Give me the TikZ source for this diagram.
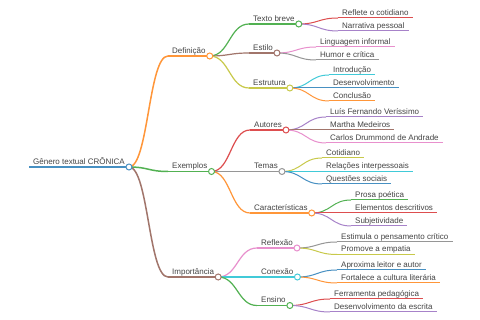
\documentclass[tikz,border=0pt]{standalone}
\usepackage{fontspec}
\setmainfont{Liberation Sans}
\usetikzlibrary{calc}
\definecolor{bblue}{HTML}{1F77B4}
\definecolor{borange}{HTML}{FF7F0E}
\definecolor{bgreen}{HTML}{2CA02C}
\definecolor{bred}{HTML}{D62728}
\definecolor{bpurple}{HTML}{9467BD}
\definecolor{bbrown}{HTML}{8C564B}
\definecolor{bpink}{HTML}{E377C2}
\definecolor{bgray}{HTML}{7F7F7F}
\definecolor{bolive}{HTML}{BCBD22}
\definecolor{bcyan}{HTML}{17BECF}
\colorlet{cblue}{bblue!82!white}
\colorlet{corange}{borange!82!white}
\colorlet{cgreen}{bgreen!82!white}
\colorlet{cred}{bred!82!white}
\colorlet{cpurple}{bpurple!82!white}
\colorlet{cbrown}{bbrown!82!white}
\colorlet{cpink}{bpink!82!white}
\colorlet{cgray}{bgray!82!white}
\colorlet{colive}{bolive!82!white}
\colorlet{ccyan}{bcyan!82!white}
\definecolor{txtgray}{HTML}{444444}
\tikzset{
  txt/.style={inner sep=0pt, anchor=base west, font=\fontsize{8}{9.6}\selectfont, text=txtgray},
  circ/.style={circle, fill=white, inner sep=0pt, minimum size=6pt, line width=1pt},
  lzero/.style={line width=1.8pt},
  lone/.style={line width=1.5pt},
  ltwo/.style={line width=1.2pt},
  lthree/.style={line width=1pt}
}
\newcommand\mnode[5]{%
  \node[txt] (#1-t) at (#2+4,#3-2.5) {#4};
  \coordinate (#1-s) at (#2,#3);
  \path (#1-t.east |- #1-s) ++(4,0) coordinate (#1);
  \draw[#5] (#1-s) -- (#1);}
\newcommand\mlink[3]{%
  \coordinate (mm) at ($(#1)!.5!(#2-s)$);
  \draw[#3] (#1) .. controls (mm |- #1) and (mm |- #2-s) .. (#2-s);}
\newcommand\mcirc[2]{\node[circ, draw=#2] (#1-c) at (#1) {};}
\begin{document}
\begin{tikzpicture}[x=1pt,y=-1pt]
\fill[white] (0,0) rectangle (480,320);
\useasboundingbox (0,0) rectangle (480,320);
% level 0
\mnode{root}{29}{167}{Gênero textual CRÔNICA}{cblue,lzero}
% level 1
\mnode{def}{168}{56}{Definição}{corange,lone}
\mnode{exe}{168}{171.5}{Exemplos}{cgreen,lone}
\mnode{imp}{168}{277}{Importância}{cbrown,lone}
% level 2
\mnode{tb}{249}{24}{Texto breve}{cgreen,ltwo}
\mnode{est}{249}{53}{Estilo}{cbrown,ltwo}
\mnode{estr}{249}{88}{Estrutura}{colive,ltwo}
\mnode{aut}{250}{130}{Autores}{cred,ltwo}
\mnode{tem}{250}{171.5}{Temas}{cgray,ltwo}
\mnode{car}{250}{213}{Características}{corange,ltwo}
\mnode{ref}{257}{248}{Reflexão}{cpink,ltwo}
\mnode{con}{257}{277}{Conexão}{ccyan,ltwo}
\mnode{ens}{257}{305.5}{Ensino}{cgreen,ltwo}
% level 3
\mnode{a1}{338}{18}{Reflete o cotidiano}{cred,lthree}
\mnode{a2}{338}{31}{Narrativa pessoal}{cpurple,lthree}
\mnode{b1}{316}{47}{Linguagem informal}{cpink,lthree}
\mnode{b2}{316}{60}{Humor e crítica}{cgray,lthree}
\mnode{c1}{329}{75}{Introdução}{ccyan,lthree}
\mnode{c2}{329}{88}{Desenvolvimento}{cblue,lthree}
\mnode{c3}{329}{101}{Conclusão}{corange,lthree}
\mnode{d1}{326}{117}{Luís Fernando Veríssimo}{cpurple,lthree}
\mnode{d2}{326}{130}{Martha Medeiros}{cbrown,lthree}
\mnode{d3}{326}{143}{Carlos Drummond de Andrade}{cpink,lthree}
\mnode{e1}{322}{158}{Cotidiano}{colive,lthree}
\mnode{e2}{322}{171.5}{Relações interpessoais}{ccyan,lthree}
\mnode{e3}{322}{184}{Questões sociais}{cblue,lthree}
\mnode{f1}{351}{200}{Prosa poética}{cgreen,lthree}
\mnode{f2}{351}{213}{Elementos descritivos}{cred,lthree}
\mnode{f3}{351}{226}{Subjetividade}{cpurple,lthree}
\mnode{g1}{337}{242}{Estimula o pensamento crítico}{cgray,lthree}
\mnode{g2}{337}{254.5}{Promove a empatia}{colive,lthree}
\mnode{h1}{337}{270}{Aproxima leitor e autor}{cblue,lthree}
\mnode{h2}{337}{283}{Fortalece a cultura literária}{corange,lthree}
\mnode{i1}{330}{299}{Ferramenta pedagógica}{cred,lthree}
\mnode{i2}{330}{312}{Desenvolvimento da escrita}{cpurple,lthree}
% links
\mlink{root}{def}{corange,lone}
\mlink{root}{exe}{cgreen,lone}
\mlink{root}{imp}{cbrown,lone}
\mlink{def}{tb}{cgreen,ltwo}
\mlink{def}{est}{cbrown,ltwo}
\mlink{def}{estr}{colive,ltwo}
\mlink{exe}{aut}{cred,ltwo}
\mlink{exe}{tem}{cgray,ltwo}
\mlink{exe}{car}{corange,ltwo}
\mlink{imp}{ref}{cpink,ltwo}
\mlink{imp}{con}{ccyan,ltwo}
\mlink{imp}{ens}{cgreen,ltwo}
\mlink{tb}{a1}{cred,lthree}
\mlink{tb}{a2}{cpurple,lthree}
\mlink{est}{b1}{cpink,lthree}
\mlink{est}{b2}{cgray,lthree}
\mlink{estr}{c1}{ccyan,lthree}
\mlink{estr}{c2}{cblue,lthree}
\mlink{estr}{c3}{corange,lthree}
\mlink{aut}{d1}{cpurple,lthree}
\mlink{aut}{d2}{cbrown,lthree}
\mlink{aut}{d3}{cpink,lthree}
\mlink{tem}{e1}{colive,lthree}
\mlink{tem}{e2}{ccyan,lthree}
\mlink{tem}{e3}{cblue,lthree}
\mlink{car}{f1}{cgreen,lthree}
\mlink{car}{f2}{cred,lthree}
\mlink{car}{f3}{cpurple,lthree}
\mlink{ref}{g1}{cgray,lthree}
\mlink{ref}{g2}{colive,lthree}
\mlink{con}{h1}{cblue,lthree}
\mlink{con}{h2}{corange,lthree}
\mlink{ens}{i1}{cred,lthree}
\mlink{ens}{i2}{cpurple,lthree}
% circles
\mcirc{root}{cblue}
\mcirc{def}{corange}
\mcirc{exe}{cgreen}
\mcirc{imp}{cbrown}
\mcirc{tb}{cgreen}
\mcirc{est}{cbrown}
\mcirc{estr}{colive}
\mcirc{aut}{cred}
\mcirc{tem}{cgray}
\mcirc{car}{corange}
\mcirc{ref}{cpink}
\mcirc{con}{ccyan}
\mcirc{ens}{cgreen}
\end{tikzpicture}
\end{document}
